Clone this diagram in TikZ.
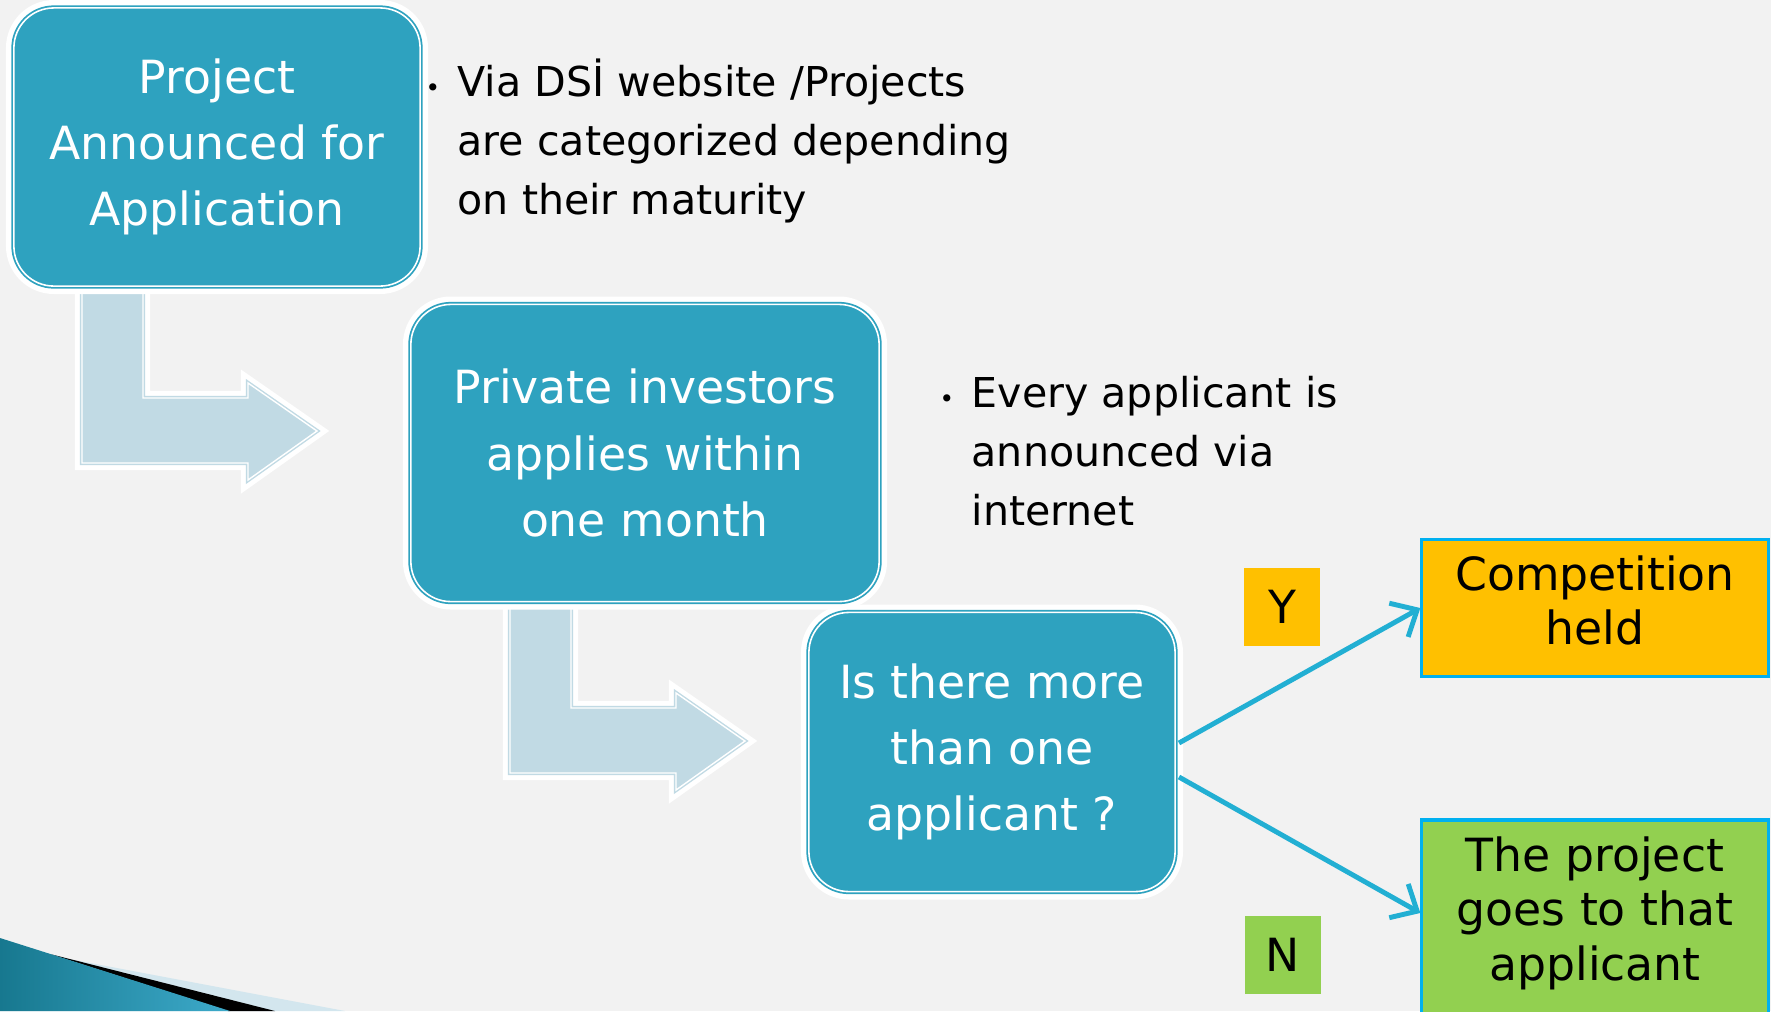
\documentclass[tikz,border=0pt]{standalone}
\usepackage{fontspec}
\setmainfont{DejaVu Sans}
\usetikzlibrary{calc,arrows.meta}
\definecolor{slidebg}{HTML}{F2F2F2}
\definecolor{stepteal}{HTML}{2EA2BF}
\definecolor{elbowblue}{HTML}{C1DAE4}
\definecolor{branchblue}{HTML}{22AFD3}
\definecolor{framecyan}{HTML}{00B0F0}
\definecolor{yesgold}{HTML}{FFC000}
\definecolor{nogreen}{HTML}{92D050}
\definecolor{swooshdark}{HTML}{17788F}
\definecolor{swooshlight}{HTML}{3DAACA}
\definecolor{swooshpale}{HTML}{D3E6EE}
\tikzset{
  stepbox/.style={rounded corners=0.4cm, fill=stepteal, draw=stepteal, double=white,
    double distance=0.45pt, line width=0.5pt, preaction={draw=white, line width=4.5pt},
    text=white, align=center, inner sep=0pt, font=\fontsize{13}{18.8}\selectfont},
  elbow/.style={fill=elbowblue, draw=elbowblue, double=white, double distance=0.4pt,
    line width=0.4pt, preaction={draw=white, line width=4pt}},
  outcome/.style={draw=framecyan, line width=0.9pt, align=center, inner sep=0pt,
    minimum width=3.46cm, font=\fontsize{13}{15.5}\selectfont},
  tag/.style={inner sep=0pt, minimum width=0.76cm, minimum height=0.77cm,
    font=\fontsize{13}{15}\selectfont},
  note/.style={align=left, inner sep=0pt, font=\fontsize{11.7}{16.8}\selectfont},
  branch/.style={draw=branchblue, line width=1.4pt, -{Straight Barb[length=6pt, width=11pt]}}
}
\def\elbowarrow(#1,#2){\draw[elbow, shift={(#1,#2)}] (82,280) -- (143,280) -- (143,398) -- (248,398) -- (248,383) -- (317,431) -- (248,480) -- (248,463) -- (82,463) -- cycle;}
\def\notebullet{\llap{{\fontsize{7}{7}\selectfont •}\hspace{5pt}}}

\begin{document}
\begin{tikzpicture}[x=0.01cm, y=-0.01cm]
			%%%%% START %%%%%
			\fill[slidebg] (0,0) rectangle (1771,1011);
			\clip (0,0) rectangle (1771,1011);
			
			\elbowarrow(0,0)
			\elbowarrow(428,310)
			
			\node[stepbox, minimum width=4.06cm, minimum height=2.78cm] (announce) at (217,147) {Project\\Announced for\\Application};
			\node[stepbox, minimum width=4.68cm, minimum height=2.97cm] (apply) at (645,453) {Private investors\\applies within\\one month};
			\node[stepbox, minimum width=3.66cm, minimum height=2.79cm] (check) at (992,752) {Is there more\\than one\\applicant ?};
			
			\node[note, anchor=west] (website) at (457,141) {\notebullet Via DSİ website /Projects\\are categorized depending\\on their maturity};
			\node[note, anchor=west] (internet) at (971,451) {\notebullet Every applicant is\\announced via\\internet};
			
			\node[outcome, fill=yesgold, minimum height=1.37cm] (contest) at (1595,608) {Competition\\held\\[-11pt]};
			\node[outcome, fill=nogreen, minimum height=2.0cm] (award) at (1595,920) {The project\\goes to that\\applicant\\[-9pt]};
			
			\node[tag, fill=yesgold] (yes) at (1282,607) {Y};
			\node[tag, fill=nogreen] (no) at (1283,955) {N};
			
			\draw[branch] ($(check.east)+(3,-9)$) -- (contest.west);
			\draw[branch] ($(check.east)+(3,25)$) -- ([yshift=2pt]award.west);
			
			% corner swoosh
			\fill[swooshpale] (0,946) -- (345,1011) -- (0,1011) -- cycle;
			\fill[black] (50,954) -- (275,1011) -- (228,1011) -- cycle;
			\shade[left color=swooshdark, right color=swooshlight] (0,938) -- (230,1011) -- (0,1011) -- cycle;
			%%%%% END %%%%%
\end{tikzpicture}
\end{document}
